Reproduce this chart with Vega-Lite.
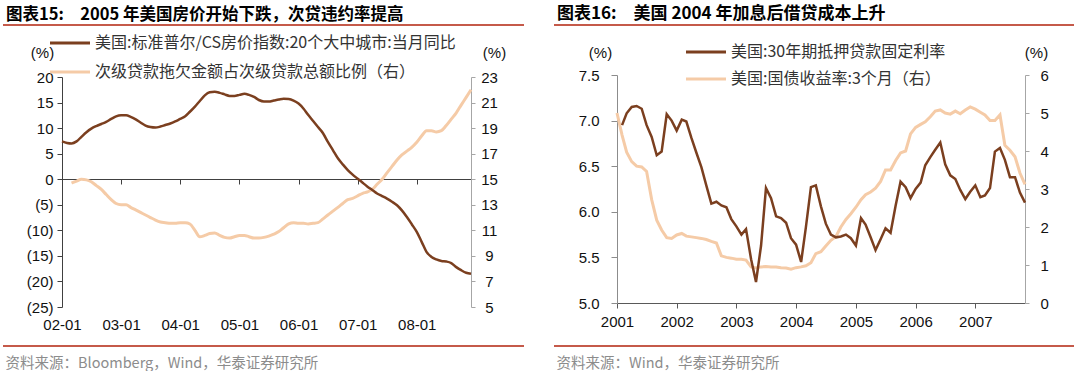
{
  "$schema": "https://vega.github.io/schema/vega-lite/v6.json",
  "padding": {"left": 2, "top": 4, "right": 0, "bottom": 0},
  "background": "white",
  "spacing": 28,
  "config": {"view": {"stroke": null}, "font": "Liberation Sans", "axis": {"grid": false}},
  "resolve": {"scale": {"color": "independent"}, "legend": {"color": "independent"}},
  "datasets": {
    "hp": [
      {"d": "2002-01-01", "cs": 7.4},
      {"d": "2002-02-01", "cs": 7.1},
      {"d": "2002-03-01", "cs": 7.0, "dq": 14.7},
      {"d": "2002-04-01", "cs": 7.4, "dq": 14.85},
      {"d": "2002-05-01", "cs": 8.3, "dq": 15.0},
      {"d": "2002-06-01", "cs": 9.2, "dq": 14.95},
      {"d": "2002-07-01", "cs": 9.9, "dq": 14.8},
      {"d": "2002-08-01", "cs": 10.4, "dq": 14.5},
      {"d": "2002-09-01", "cs": 10.8, "dq": 14.2},
      {"d": "2002-10-01", "cs": 11.2, "dq": 13.8},
      {"d": "2002-11-01", "cs": 11.8, "dq": 13.4},
      {"d": "2002-12-01", "cs": 12.3, "dq": 13.1},
      {"d": "2003-01-01", "cs": 12.5, "dq": 13.0},
      {"d": "2003-02-01", "cs": 12.5, "dq": 13.0},
      {"d": "2003-03-01", "cs": 12.2, "dq": 12.8},
      {"d": "2003-04-01", "cs": 11.7, "dq": 12.6},
      {"d": "2003-05-01", "cs": 11.1, "dq": 12.4},
      {"d": "2003-06-01", "cs": 10.5, "dq": 12.2},
      {"d": "2003-07-01", "cs": 10.2, "dq": 12.0},
      {"d": "2003-08-01", "cs": 10.1, "dq": 11.8},
      {"d": "2003-09-01", "cs": 10.3, "dq": 11.65},
      {"d": "2003-10-01", "cs": 10.6, "dq": 11.6},
      {"d": "2003-11-01", "cs": 10.9, "dq": 11.55},
      {"d": "2003-12-01", "cs": 11.3, "dq": 11.55},
      {"d": "2004-01-01", "cs": 11.8, "dq": 11.6},
      {"d": "2004-02-01", "cs": 12.3, "dq": 11.6},
      {"d": "2004-03-01", "cs": 13.2, "dq": 11.5},
      {"d": "2004-04-01", "cs": 14.2, "dq": 11.0},
      {"d": "2004-05-01", "cs": 15.3, "dq": 10.5},
      {"d": "2004-06-01", "cs": 16.4, "dq": 10.6},
      {"d": "2004-07-01", "cs": 17.0, "dq": 10.75},
      {"d": "2004-08-01", "cs": 17.1, "dq": 10.8},
      {"d": "2004-09-01", "cs": 16.9, "dq": 10.6},
      {"d": "2004-10-01", "cs": 16.6, "dq": 10.45},
      {"d": "2004-11-01", "cs": 16.3, "dq": 10.4},
      {"d": "2004-12-01", "cs": 16.3, "dq": 10.5},
      {"d": "2005-01-01", "cs": 16.5, "dq": 10.6},
      {"d": "2005-02-01", "cs": 16.7, "dq": 10.6},
      {"d": "2005-03-01", "cs": 16.5, "dq": 10.5},
      {"d": "2005-04-01", "cs": 16.1, "dq": 10.4},
      {"d": "2005-05-01", "cs": 15.5, "dq": 10.4},
      {"d": "2005-06-01", "cs": 15.2, "dq": 10.45},
      {"d": "2005-07-01", "cs": 15.2, "dq": 10.55},
      {"d": "2005-08-01", "cs": 15.4, "dq": 10.7},
      {"d": "2005-09-01", "cs": 15.6, "dq": 10.9},
      {"d": "2005-10-01", "cs": 15.75, "dq": 11.2},
      {"d": "2005-11-01", "cs": 15.7, "dq": 11.5},
      {"d": "2005-12-01", "cs": 15.4, "dq": 11.6},
      {"d": "2006-01-01", "cs": 14.8, "dq": 11.55},
      {"d": "2006-02-01", "cs": 13.8, "dq": 11.55},
      {"d": "2006-03-01", "cs": 12.6, "dq": 11.5},
      {"d": "2006-04-01", "cs": 11.4, "dq": 11.55},
      {"d": "2006-05-01", "cs": 10.2, "dq": 11.6},
      {"d": "2006-06-01", "cs": 9.0, "dq": 11.9},
      {"d": "2006-07-01", "cs": 7.3, "dq": 12.2},
      {"d": "2006-08-01", "cs": 5.7, "dq": 12.5},
      {"d": "2006-09-01", "cs": 4.1, "dq": 12.8},
      {"d": "2006-10-01", "cs": 2.9, "dq": 13.1},
      {"d": "2006-11-01", "cs": 1.8, "dq": 13.4},
      {"d": "2006-12-01", "cs": 0.9, "dq": 13.5},
      {"d": "2007-01-01", "cs": 0.1, "dq": 13.7},
      {"d": "2007-02-01", "cs": -0.7, "dq": 13.9},
      {"d": "2007-03-01", "cs": -1.4, "dq": 14.0},
      {"d": "2007-04-01", "cs": -2.1, "dq": 14.2},
      {"d": "2007-05-01", "cs": -2.8, "dq": 14.6},
      {"d": "2007-06-01", "cs": -3.3, "dq": 15.0},
      {"d": "2007-07-01", "cs": -3.8, "dq": 15.5},
      {"d": "2007-08-01", "cs": -4.4, "dq": 16.0},
      {"d": "2007-09-01", "cs": -5.1, "dq": 16.5},
      {"d": "2007-10-01", "cs": -6.1, "dq": 16.9},
      {"d": "2007-11-01", "cs": -7.4, "dq": 17.2},
      {"d": "2007-12-01", "cs": -8.8, "dq": 17.5},
      {"d": "2008-01-01", "cs": -10.3, "dq": 17.9},
      {"d": "2008-02-01", "cs": -12.3, "dq": 18.4},
      {"d": "2008-03-01", "cs": -14.2, "dq": 18.8},
      {"d": "2008-04-01", "cs": -15.2, "dq": 18.8},
      {"d": "2008-05-01", "cs": -15.7, "dq": 18.7},
      {"d": "2008-06-01", "cs": -16.0, "dq": 18.8},
      {"d": "2008-07-01", "cs": -16.1, "dq": 19.2},
      {"d": "2008-08-01", "cs": -16.4, "dq": 19.7},
      {"d": "2008-09-01", "cs": -17.2, "dq": 20.2},
      {"d": "2008-10-01", "cs": -17.8, "dq": 20.8},
      {"d": "2008-11-01", "cs": -18.3, "dq": 21.4},
      {"d": "2008-12-01", "cs": -18.5, "dq": 22.0}
    ],
    "rt": [
      {"d": "2001-01-01", "tb": 5.0},
      {"d": "2001-02-01", "mr": 6.95, "tb": 4.42},
      {"d": "2001-03-01", "mr": 7.08, "tb": 3.97},
      {"d": "2001-04-01", "mr": 7.15, "tb": 3.72},
      {"d": "2001-05-01", "mr": 7.16, "tb": 3.6},
      {"d": "2001-06-01", "mr": 7.13, "tb": 3.58},
      {"d": "2001-07-01", "mr": 6.95, "tb": 3.46},
      {"d": "2001-08-01", "mr": 6.82, "tb": 2.72},
      {"d": "2001-09-01", "mr": 6.62, "tb": 2.18},
      {"d": "2001-10-01", "mr": 6.66, "tb": 1.92},
      {"d": "2001-11-01", "mr": 7.07, "tb": 1.72},
      {"d": "2001-12-01", "mr": 7.0, "tb": 1.7},
      {"d": "2002-01-01", "mr": 6.89, "tb": 1.79},
      {"d": "2002-02-01", "mr": 7.01, "tb": 1.83},
      {"d": "2002-03-01", "mr": 6.99, "tb": 1.76},
      {"d": "2002-04-01", "mr": 6.81, "tb": 1.74},
      {"d": "2002-05-01", "mr": 6.65, "tb": 1.72},
      {"d": "2002-06-01", "mr": 6.49, "tb": 1.7},
      {"d": "2002-07-01", "mr": 6.29, "tb": 1.67},
      {"d": "2002-08-01", "mr": 6.09, "tb": 1.62},
      {"d": "2002-09-01", "mr": 6.11, "tb": 1.58},
      {"d": "2002-10-01", "mr": 6.07, "tb": 1.24},
      {"d": "2002-11-01", "mr": 6.05, "tb": 1.2},
      {"d": "2002-12-01", "mr": 5.92, "tb": 1.18},
      {"d": "2003-01-01", "mr": 5.84, "tb": 1.15},
      {"d": "2003-02-01", "mr": 5.75, "tb": 1.15},
      {"d": "2003-03-01", "mr": 5.81, "tb": 1.13},
      {"d": "2003-04-01", "mr": 5.48, "tb": 0.95},
      {"d": "2003-05-01", "mr": 5.23, "tb": 0.92},
      {"d": "2003-06-01", "mr": 5.63, "tb": 0.95},
      {"d": "2003-07-01", "mr": 6.26, "tb": 0.96},
      {"d": "2003-08-01", "mr": 6.15, "tb": 0.95},
      {"d": "2003-09-01", "mr": 5.95, "tb": 0.95},
      {"d": "2003-10-01", "mr": 5.93, "tb": 0.93},
      {"d": "2003-11-01", "mr": 5.88, "tb": 0.92},
      {"d": "2003-12-01", "mr": 5.71, "tb": 0.89},
      {"d": "2004-01-01", "mr": 5.64, "tb": 0.93},
      {"d": "2004-02-01", "mr": 5.45, "tb": 0.95},
      {"d": "2004-03-01", "mr": 5.83, "tb": 0.98},
      {"d": "2004-04-01", "mr": 6.27, "tb": 1.06},
      {"d": "2004-05-01", "mr": 6.29, "tb": 1.3},
      {"d": "2004-06-01", "mr": 6.06, "tb": 1.35},
      {"d": "2004-07-01", "mr": 5.87, "tb": 1.5},
      {"d": "2004-08-01", "mr": 5.75, "tb": 1.65},
      {"d": "2004-09-01", "mr": 5.72, "tb": 1.75},
      {"d": "2004-10-01", "mr": 5.73, "tb": 2.0},
      {"d": "2004-11-01", "mr": 5.75, "tb": 2.2},
      {"d": "2004-12-01", "mr": 5.71, "tb": 2.35},
      {"d": "2005-01-01", "mr": 5.63, "tb": 2.52},
      {"d": "2005-02-01", "mr": 5.93, "tb": 2.72},
      {"d": "2005-03-01", "mr": 5.86, "tb": 2.85},
      {"d": "2005-04-01", "mr": 5.72, "tb": 2.92},
      {"d": "2005-05-01", "mr": 5.58, "tb": 3.02},
      {"d": "2005-06-01", "mr": 5.7, "tb": 3.2},
      {"d": "2005-07-01", "mr": 5.82, "tb": 3.5},
      {"d": "2005-08-01", "mr": 5.77, "tb": 3.5},
      {"d": "2005-09-01", "mr": 6.07, "tb": 3.75},
      {"d": "2005-10-01", "mr": 6.33, "tb": 3.95},
      {"d": "2005-11-01", "mr": 6.27, "tb": 4.0},
      {"d": "2005-12-01", "mr": 6.15, "tb": 4.45},
      {"d": "2006-01-01", "mr": 6.25, "tb": 4.62},
      {"d": "2006-02-01", "mr": 6.32, "tb": 4.7},
      {"d": "2006-03-01", "mr": 6.51, "tb": 4.77},
      {"d": "2006-04-01", "mr": 6.6, "tb": 4.9},
      {"d": "2006-05-01", "mr": 6.68, "tb": 5.05},
      {"d": "2006-06-01", "mr": 6.76, "tb": 5.08},
      {"d": "2006-07-01", "mr": 6.52, "tb": 5.0},
      {"d": "2006-08-01", "mr": 6.4, "tb": 4.97},
      {"d": "2006-09-01", "mr": 6.36, "tb": 5.05},
      {"d": "2006-10-01", "mr": 6.24, "tb": 4.98},
      {"d": "2006-11-01", "mr": 6.14, "tb": 5.08},
      {"d": "2006-12-01", "mr": 6.22, "tb": 5.16},
      {"d": "2007-01-01", "mr": 6.29, "tb": 5.1},
      {"d": "2007-02-01", "mr": 6.16, "tb": 5.02},
      {"d": "2007-03-01", "mr": 6.18, "tb": 4.95},
      {"d": "2007-04-01", "mr": 6.26, "tb": 4.8},
      {"d": "2007-05-01", "mr": 6.66, "tb": 4.8},
      {"d": "2007-06-01", "mr": 6.7, "tb": 4.95},
      {"d": "2007-07-01", "mr": 6.57, "tb": 4.15},
      {"d": "2007-08-01", "mr": 6.38, "tb": 4.02},
      {"d": "2007-09-01", "mr": 6.38, "tb": 3.85},
      {"d": "2007-10-01", "mr": 6.21, "tb": 3.42},
      {"d": "2007-11-01", "mr": 6.1, "tb": 3.12}
    ]
  },
  "hconcat": [
    {
      "width": 521,
      "height": 321,
      "title": {"text": "图表15:\u30002005 年美国房价开始下跌，次贷违约率提高", "anchor": "start", "font": "Noto Sans CJK SC", "fontSize": 16.5, "fontWeight": "bold", "color": "#000000", "offset": 2, "dx": 3},
      "view": {"stroke": "#C55A4A", "strokeWidth": 2, "strokeDash": [521, 321]},
      "data": {"name": "hp"},
      "layer": [
        {
          "mark": {"type": "line", "color": "#F5CBA7", "strokeWidth": 3, "interpolate": "monotone"},
          "encoding": {
            "x": {"field": "d", "type": "temporal", "title": "资料来源：Bloomberg，Wind，华泰证券研究所",
              "scale": {"type": "utc", "domain": [{"year": 2002, "month": 1, "date": 1, "utc": true}, {"year": 2008, "month": 12, "date": 1, "utc": true}], "range": [59, 468]},
              "axis": {"orient": "bottom", "offset": -167, "values": [{"year": 2002, "month": 1, "date": 1, "utc": true}, {"year": 2003, "month": 1, "date": 1, "utc": true}, {"year": 2004, "month": 1, "date": 1, "utc": true}, {"year": 2005, "month": 1, "date": 1, "utc": true}, {"year": 2006, "month": 1, "date": 1, "utc": true}, {"year": 2007, "month": 1, "date": 1, "utc": true}, {"year": 2008, "month": 1, "date": 1, "utc": true}], "format": "%y-%m", "labelFlush": false, "labelOverlap": false, "domainColor": "#404040", "tickColor": "#404040", "tickSize": 5, "labelPadding": 133, "labelFont": "Liberation Sans", "labelFontSize": 15, "labelColor": "#111111", "titleFont": "Noto Sans CJK SC", "titleFontSize": 14.5, "titleFontWeight": "normal", "titleColor": "#8C8C8C", "titleX": 2, "titleY": 184, "titleAlign": "left", "titleBaseline": "middle", "titleAnchor": "start", "grid": false}},
            "y": {"field": "dq", "type": "quantitative",
              "scale": {"domain": [5, 23], "range": [282, 52], "zero": false, "nice": false},
              "axis": {"orient": "right", "offset": -53, "values": [5, 7, 9, 11, 13, 15, 17, 19, 21, 23], "domainColor": "#A6A6A6", "tickColor": "#A6A6A6", "tickSize": 4, "labelAlign": "center", "labelPadding": 14, "labelFont": "Liberation Sans", "labelFontSize": 15, "labelColor": "#111111", "title": "(%)", "titleAngle": 0, "titleX": 23, "titleY": 27, "titleAlign": "center", "titleBaseline": "middle", "titleFont": "Liberation Sans", "titleFontSize": 15, "titleFontWeight": "normal", "titleColor": "#111111", "grid": false}},
            "color": {"datum": "次级贷款拖欠金额占次级贷款总额比例（右）", "type": "nominal",
              "scale": {"domain": ["美国:标准普尔/CS房价指数:20个大中城市:当月同比", "次级贷款拖欠金额占次级贷款总额比例（右）"], "range": ["#7B3F1F", "#F5CBA7"]},
              "legend": {"orient": "none", "legendX": 75, "legendY": 10, "direction": "vertical", "title": null, "symbolType": "M-9,0H1", "symbolSize": 64, "symbolStrokeWidth": 3, "labelFont": "Noto Sans CJK SC", "labelFontSize": 16, "labelColor": "#333333", "labelOffset": 1, "rowPadding": 13, "padding": 0, "labelLimit": 600}}
          }
        },
        {
          "mark": {"type": "line", "color": "#7B3F1F", "strokeWidth": 2.5, "interpolate": "monotone"},
          "encoding": {
            "x": {"field": "d", "type": "temporal", "title": "资料来源：Bloomberg，Wind，华泰证券研究所"},
            "y": {"field": "cs", "type": "quantitative",
              "scale": {"domain": [-25, 20], "range": [282, 52], "zero": false, "nice": false},
              "axis": {"orient": "left", "offset": -59, "values": [-25, -20, -15, -10, -5, 0, 5, 10, 15, 20], "labelExpr": "datum.value < 0 ? '(' + (-datum.value) + ')' : '' + datum.value", "domainColor": "#404040", "tickColor": "#404040", "tickSize": 5, "labelPadding": 4, "labelFont": "Liberation Sans", "labelFontSize": 15, "labelColor": "#111111", "title": "(%)", "titleAngle": 0, "titleX": -20, "titleY": 27, "titleAlign": "center", "titleBaseline": "middle", "titleFont": "Liberation Sans", "titleFontSize": 15, "titleFontWeight": "normal", "titleColor": "#111111", "grid": false}},
            "color": {"datum": "美国:标准普尔/CS房价指数:20个大中城市:当月同比", "type": "nominal"}
          }
        }
      ],
      "resolve": {"scale": {"y": "independent"}}
    },
    {
      "width": 520,
      "height": 321,
      "title": {"text": "图表16:\u3000美国 2004 年加息后借贷成本上升", "anchor": "start", "font": "Noto Sans CJK SC", "fontSize": 17, "fontWeight": "bold", "color": "#000000", "offset": 2, "dx": 3},
      "view": {"stroke": "#C55A4A", "strokeWidth": 2, "strokeDash": [520, 321]},
      "data": {"name": "rt"},
      "layer": [
        {
          "mark": {"type": "line", "color": "#F5CBA7", "strokeWidth": 3},
          "encoding": {
            "x": {"field": "d", "type": "temporal", "title": "资料来源：Wind，华泰证券研究所",
              "scale": {"type": "utc", "domain": [{"year": 2001, "month": 1, "date": 1, "utc": true}, {"year": 2007, "month": 11, "date": 1, "utc": true}], "range": [63, 471]},
              "axis": {"orient": "bottom", "offset": -43, "values": [{"year": 2001, "month": 1, "date": 1, "utc": true}, {"year": 2002, "month": 1, "date": 1, "utc": true}, {"year": 2003, "month": 1, "date": 1, "utc": true}, {"year": 2004, "month": 1, "date": 1, "utc": true}, {"year": 2005, "month": 1, "date": 1, "utc": true}, {"year": 2006, "month": 1, "date": 1, "utc": true}, {"year": 2007, "month": 1, "date": 1, "utc": true}], "format": "%Y", "labelFlush": false, "labelOverlap": false, "domainColor": "#595959", "tickColor": "#595959", "tickSize": 5, "labelPadding": 6, "labelFont": "Liberation Sans", "labelFontSize": 15, "labelColor": "#111111", "titleFont": "Noto Sans CJK SC", "titleFontSize": 14.5, "titleFontWeight": "normal", "titleColor": "#8C8C8C", "titleX": 2, "titleY": 60, "titleAlign": "left", "titleBaseline": "middle", "titleAnchor": "start", "grid": false}},
            "y": {"field": "tb", "type": "quantitative",
              "scale": {"domain": [0, 6], "range": [278, 50], "zero": false, "nice": false},
              "axis": {"orient": "right", "offset": -49, "values": [0, 1, 2, 3, 4, 5, 6], "domainColor": "#A6A6A6", "tickColor": "#A6A6A6", "tickSize": 4, "labelPadding": 11, "labelFont": "Liberation Sans", "labelFontSize": 15, "labelColor": "#111111", "title": "(%)", "titleAngle": 0, "titleX": 11, "titleY": 27, "titleAlign": "center", "titleBaseline": "middle", "titleFont": "Liberation Sans", "titleFontSize": 15, "titleFontWeight": "normal", "titleColor": "#111111", "grid": false}},
            "color": {"datum": "美国:国债收益率:3个月（右）", "type": "nominal",
              "scale": {"domain": ["美国:30年期抵押贷款固定利率", "美国:国债收益率:3个月（右）"], "range": ["#7B3F1F", "#F5CBA7"]},
              "legend": {"orient": "none", "legendX": 160, "legendY": 19, "direction": "vertical", "title": null, "symbolType": "M-9,0H1", "symbolSize": 64, "symbolStrokeWidth": 3, "labelFont": "Noto Sans CJK SC", "labelFontSize": 16, "labelColor": "#333333", "labelOffset": 1, "rowPadding": 11, "padding": 0, "labelLimit": 600}}
          }
        },
        {
          "mark": {"type": "line", "color": "#7B3F1F", "strokeWidth": 2.5},
          "encoding": {
            "x": {"field": "d", "type": "temporal", "title": "资料来源：Wind，华泰证券研究所"},
            "y": {"field": "mr", "type": "quantitative",
              "scale": {"domain": [5, 7.5], "range": [278, 50], "zero": false, "nice": false},
              "axis": {"orient": "left", "offset": -63, "values": [5, 5.5, 6, 6.5, 7, 7.5], "format": ".1f", "domainColor": "#8C8C8C", "tickColor": "#8C8C8C", "tickSize": 6, "labelPadding": 12, "labelFont": "Liberation Sans", "labelFontSize": 15, "labelColor": "#111111", "title": "(%)", "titleAngle": 0, "titleX": -17, "titleY": 27, "titleAlign": "center", "titleBaseline": "middle", "titleFont": "Liberation Sans", "titleFontSize": 15, "titleFontWeight": "normal", "titleColor": "#111111", "grid": false}},
            "color": {"datum": "美国:30年期抵押贷款固定利率", "type": "nominal"}
          }
        }
      ],
      "resolve": {"scale": {"y": "independent"}}
    }
  ]
}
